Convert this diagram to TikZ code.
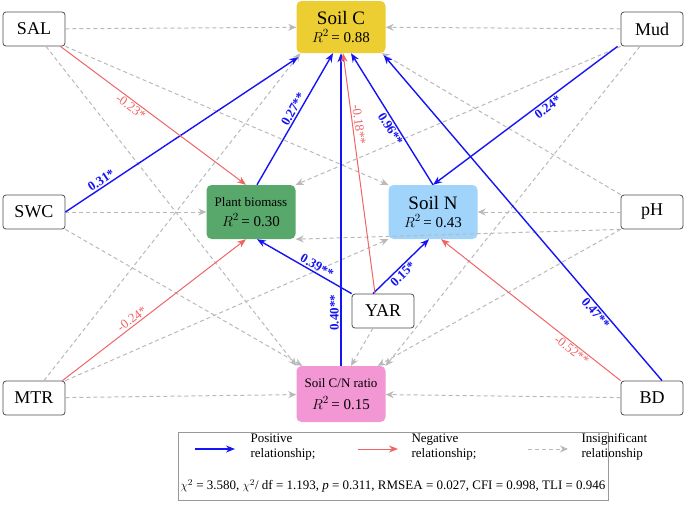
\documentclass[tikz,border=0pt]{standalone}
\usepackage{fontspec}
\setmainfont{Liberation Serif}
\usetikzlibrary{arrows.meta}
\definecolor{pos}{RGB}{20,20,245}
\definecolor{neg}{RGB}{240,100,100}
\definecolor{ins}{RGB}{185,185,185}
\definecolor{cC}{RGB}{236,205,50}
\definecolor{cPB}{RGB}{88,168,108}
\definecolor{cN}{RGB}{160,212,250}
\definecolor{cCN}{RGB}{242,150,212}
\begin{document}
\begin{tikzpicture}[x=1pt,y=-1pt,
 var/.style={draw=black!70,rounded corners=3pt,minimum width=62pt,minimum height=34pt,font=\fontsize{18}{18}\selectfont,inner sep=1pt,line width=0.8pt},
 resp/.style={rounded corners=5pt,minimum width=89pt,minimum height=54pt,align=center,inner sep=1pt},
 pe/.style={draw=pos,line width=1.4pt,-{Stealth[length=9pt,width=7pt]}},
 ne/.style={draw=neg,line width=1pt,-{Stealth[length=9pt,width=7pt]}},
 ie/.style={draw=ins,line width=1pt,dashed,dash pattern=on 4pt off 3pt,-{Stealth[length=8pt,width=7pt]}},
 pl/.style={text=pos,font=\bfseries\fontsize{13}{13}\selectfont,sloped,inner sep=1.5pt},
 nl/.style={text=neg,font=\fontsize{13}{13}\selectfont,sloped,inner sep=1.5pt}]
\useasboundingbox (0,0) rectangle (685,504);
\node[var] (SAL) at (34,29) {SAL};
\node[var] (Mud) at (652,29) {Mud};
\node[var] (SWC) at (34,212) {SWC};
\node[var] (pH) at (652,212) {pH};
\node[var] (MTR) at (34,398) {MTR};
\node[var] (BD) at (652,398) {BD};
\node[var,fill=white] (YAR) at (383,311) {YAR};
\node[resp,fill=cC,minimum height=52pt] (C) at (341,27) {\fontsize{19}{20}\selectfont Soil C\\[4pt]\fontsize{15}{15}\selectfont $R^2$\,= 0.88};
\node[resp,fill=cPB] (PB) at (251,212) {\fontsize{13}{14}\selectfont Plant biomass\\[6pt]\fontsize{15}{15}\selectfont $R^2$\,= 0.30};
\node[resp,fill=cN] (N) at (433,212) {\fontsize{19}{20}\selectfont Soil N\\[4pt]\fontsize{15}{15}\selectfont $R^2$\,= 0.43};
\node[resp,fill=cCN,minimum height=56pt] (CN) at (341,394) {\fontsize{13}{14}\selectfont Soil C/N ratio\\[8pt]\fontsize{15}{15}\selectfont $R^2$\,= 0.15};
% insignificant
\draw[ie] (SAL) -- (C);
\draw[ie] (Mud) -- (C);
\draw[ie] (SWC) -- (PB);
\draw[ie] (pH) -- (N);
\draw[ie] (MTR) -- (CN);
\draw[ie] (BD) -- (CN);
\draw[ie] (SAL.south east) -- (N.north west);
\draw[ie] (SAL.south) ++(12,0) coordinate (s1) -- (CN.north west);
\draw[ie] (Mud.south west) -- (PB.north east);
\draw[ie] (Mud.south) ++(-12,0) coordinate (m1) -- (CN.north east);
\draw[ie] (SWC.south east) -- ([xshift=6pt]CN.north west);
\draw[ie] (pH.south west) -- ([xshift=-8pt]CN.north east);
\draw[ie] (pH.north west) -- ([xshift=-4pt]C.south east);
\draw[ie] (pH.south west) -- (PB.south east);
\draw[ie] (MTR.north) ++(10,0) coordinate (t1) -- ([xshift=4pt]C.south west);
\draw[ie] (MTR.north east) -- (N.south west);
\draw[ie] (YAR) -- ([xshift=10pt]CN.north);
% significant
\draw[pe] (SWC.east) -- ([xshift=2pt,yshift=-4pt]C.south west) node[pl,pos=0.17,above] {0.31*};
\draw[pe] ([xshift=6pt]PB.north) -- ([xshift=-8pt]C.south) node[pl,pos=0.55,above] {0.27**};
\draw[pe] (N.north) -- ([xshift=10pt]C.south) node[pl,pos=0.45,below] {0.96**};
\draw[pe] (Mud.south west) ++(-3,0) coordinate (m2) -- (N.north) node[pl,pos=0.4,below] {0.24*};
\draw[pe] (YAR.north west) -- ([xshift=6pt]PB.south) node[pl,pos=0.4,above] {0.39**};
\draw[pe] ([xshift=-10pt]YAR.north) -- ([xshift=-4pt]N.south) node[pl,pos=0.45,below] {0.15*};
\draw[pe] (CN.north) -- (C.south) node[pl,pos=0.17,above] {0.40**};
\draw[pe] ([xshift=10pt]BD.north) -- ([xshift=-2pt,yshift=-2pt]C.south east) node[pl,pos=0.22,below] {0.47**};
\draw[ne] (SAL.south east) ++(-5,0) coordinate (s2) -- ([xshift=-5pt]PB.north) node[nl,pos=0.4,below] {-0.23*};
\draw[ne] (MTR.north east) ++(-3,0) coordinate (t2) -- ([xshift=-5pt]PB.south) node[nl,pos=0.4,above] {-0.24*};
\draw[ne] ([xshift=-8pt]YAR.north) -- ([xshift=2pt]C.south) node[nl,pos=0.7,above] {-0.18**};
\draw[ne] (BD.north west) -- ([xshift=8pt]N.south) node[nl,pos=0.25,below] {-0.52**};
% legend
\node[draw=black!40,line width=1pt,minimum width=430pt,minimum height=68pt] (L) at (393,466) {};
\coordinate (a1) at (195,449); \coordinate (a2) at (235,449);
\coordinate (b1) at (358,449); \coordinate (b2) at (398,449);
\coordinate (c1) at (528,449); \coordinate (c2) at (568,449);
\draw[pe] (a1) -- (a2);
\draw[ne] (b1) -- (b2);
\draw[ie] (c1) -- (c2);
\node[anchor=west,align=left,font=\fontsize{13}{15}\selectfont] (lt1) at (247,447) {Positive\\relationship;};
\node[anchor=west,align=left,font=\fontsize{13}{15}\selectfont] (lt2) at (408,447) {Negative\\relationship;};
\node[anchor=west,align=left,font=\fontsize{13}{15}\selectfont] (lt3) at (578,447) {Insignificant\\relationship};
\node[font=\fontsize{13}{15}\selectfont] (fit) at (393,486) {$\chi^2$ = 3.580, $\chi^2$/ df = 1.193, \textit{p} = 0.311, RMSEA = 0.027, CFI = 0.998, TLI = 0.946};
\end{tikzpicture}
\end{document}
